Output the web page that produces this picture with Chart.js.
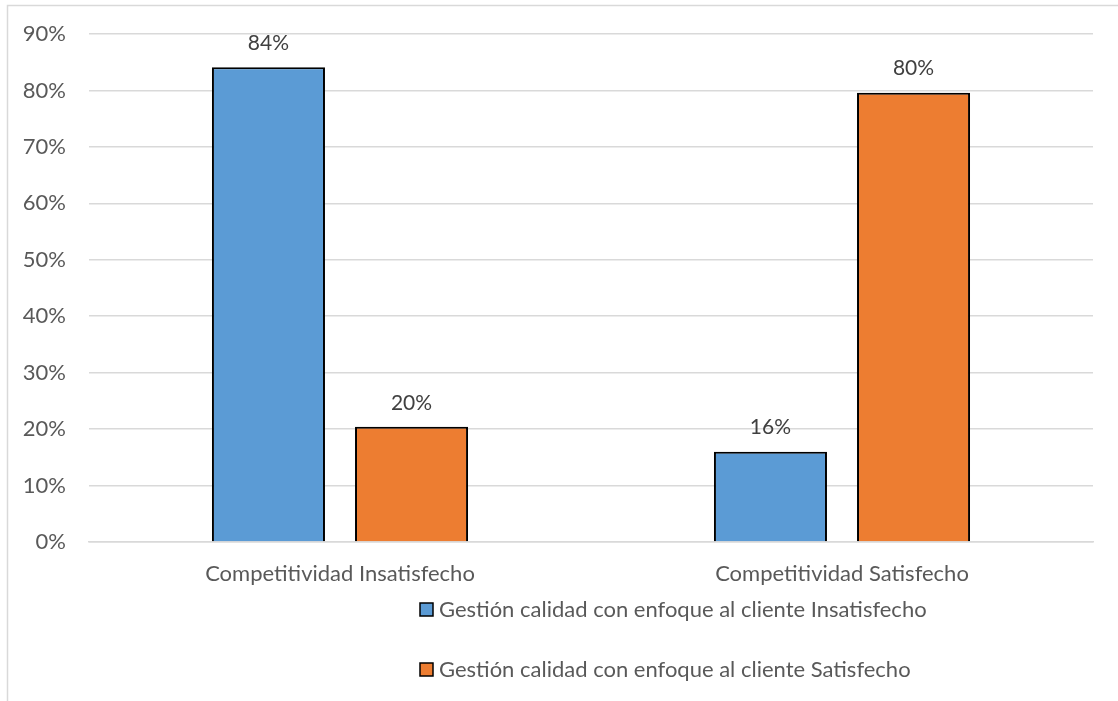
<!DOCTYPE html>
<html>
<head>
<meta charset="utf-8">
<script src="https://cdn.jsdelivr.net/npm/chart.js@4"></script>
<style>
html,body{margin:0;padding:0;background:#fff;}
#wrap{width:1118px;height:701px;position:relative;}
</style>
</head>
<body>
<div id="wrap"><canvas id="c" width="1118" height="701"></canvas></div>
<script>
const categories = ["Competitividad Insatisfecho", "Competitividad Satisfecho"];
const seriesNames = ["Gestión calidad con enfoque al cliente Insatisfecho", "Gestión calidad con enfoque al cliente Satisfecho"];
const seriesInsatisfecho = [84.1, 16.0];
const seriesSatisfecho = [20.4, 79.6];
const yTicks = [0, 10, 20, 30, 40, 50, 60, 70, 80, 90];

const FONT = "Lato, 'Liberation Sans', sans-serif";
const TEXT = "#595959";

const bgBorder = {
  id: 'bgBorder',
  beforeDraw(chart) {
    const ctx = chart.ctx;
    ctx.save();
    ctx.strokeStyle = '#d9d9d9';
    ctx.lineWidth = 1.5;
    ctx.beginPath();
    ctx.moveTo(7.5, 705);
    ctx.lineTo(7.5, 5.5);
    ctx.lineTo(1125, 5.5);
    ctx.stroke();
    ctx.restore();
  }
};

const dataLabels = {
  id: 'dataLabels',
  afterDatasetsDraw(chart) {
    const ctx = chart.ctx;
    ctx.save();
    ctx.font = "21px " + FONT;
    ctx.fillStyle = '#404040';
    ctx.textAlign = 'center';
    ctx.textBaseline = 'middle';
    chart.data.datasets.forEach((ds, i) => {
      chart.getDatasetMeta(i).data.forEach((bar, j) => {
        ctx.fillText(Math.round(ds.data[j]) + '%', bar.x, bar.y - 24);
      });
    });
    ctx.restore();
  }
};

const legendPlugin = {
  id: 'customLegend',
  afterDraw(chart) {
    const ctx = chart.ctx;
    ctx.save();
    ctx.font = "22px " + FONT;
    ctx.textAlign = 'left';
    ctx.textBaseline = 'middle';
    const x0 = 420, ys = [610, 670];
    chart.data.datasets.forEach((ds, i) => {
      const y = ys[i];
      ctx.fillStyle = ds.backgroundColor;
      ctx.fillRect(x0, y - 7, 13, 13);
      ctx.strokeStyle = '#000';
      ctx.lineWidth = 1.5;
      ctx.strokeRect(x0, y - 7, 13, 13);
      ctx.fillStyle = TEXT;
      ctx.fillText(ds.label, x0 + 19, y);
    });
    ctx.restore();
  }
};

new Chart(document.getElementById('c'), {
  type: 'bar',
  data: {
    labels: categories,
    datasets: [
      { label: seriesNames[0], data: seriesInsatisfecho, backgroundColor: '#5B9BD5', borderColor: '#000', borderWidth: 2, categoryPercentage: 0.57, barPercentage: 0.79 },
      { label: seriesNames[1], data: seriesSatisfecho, backgroundColor: '#ED7D31', borderColor: '#000', borderWidth: 2, categoryPercentage: 0.57, barPercentage: 0.79 }
    ]
  },
  options: {
    responsive: false,
    animation: false,
    devicePixelRatio: 1,
    layout: { padding: { left: 0, right: 25, top: 34, bottom: 0 } },
    plugins: { legend: { display: false }, tooltip: { enabled: false } },
    scales: {
      x: {
        grid: { display: false, drawTicks: false },
        border: { display: true, color: '#d9d9d9', width: 1.5 },
        ticks: { color: TEXT, font: { size: 22, family: FONT }, padding: 19 },
        afterFit(s) { s.height = 701 - 542; s.paddingLeft = 0; s.paddingRight = 0; }
      },
      y: {
        min: 0, max: 90,
        afterBuildTicks(s) { s.ticks = yTicks.map(v => ({ value: v })); },
        grid: { color: '#d9d9d9', lineWidth: 1.5, drawTicks: false },
        border: { display: false },
        ticks: { color: TEXT, font: { size: 22, family: FONT }, padding: 23, callback: v => v + '%' },
        afterFit(s) { s.width = 89; s.paddingTop = 0; s.paddingBottom = 0; }
      }
    }
  },
  plugins: [bgBorder, dataLabels, legendPlugin]
});
</script>
</body>
</html>
